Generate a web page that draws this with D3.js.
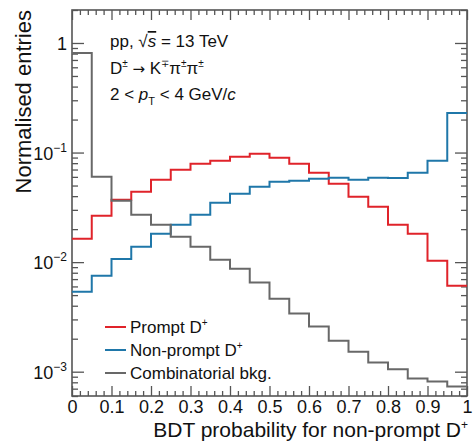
<!DOCTYPE html>
<html>
<head>
<meta charset="utf-8">
<script src="https://cdn.jsdelivr.net/npm/d3@7"></script>
<style>
  body { margin: 0; background: #fff; }
  svg { font-family: "Liberation Sans", Arial, Helvetica, sans-serif; }
  .tick line { stroke: #555; stroke-width: 1.3; }
  .tick text { fill: #111; font-size: 18px; }
</style>
</head>
<body>
<svg id="chart" width="475" height="444"></svg>
<script>
// bin lower edges (width 0.05)
const binLow = [0, 0.05, 0.1, 0.15, 0.2, 0.25, 0.3, 0.35, 0.4, 0.45,
                0.5, 0.55, 0.6, 0.65, 0.7, 0.75, 0.8, 0.85, 0.9, 0.95];
const binWidth = 0.05;

const prompt = [0.0163, 0.0265, 0.0371, 0.0438, 0.0564, 0.0695, 0.0789, 0.0840, 0.0914, 0.0973,
                0.0895, 0.0789, 0.0653, 0.0519, 0.0395, 0.0320, 0.0219, 0.0182, 0.0103, 0.0061];
const nonPrompt = [0.00537, 0.0075, 0.0107, 0.0138, 0.0182, 0.0219, 0.0270, 0.0348, 0.0420, 0.0487,
                   0.0541, 0.0552, 0.0576, 0.0588, 0.0564, 0.0588, 0.0585, 0.0653, 0.0840, 0.230];
const combinatorial = [0.81, 0.060, 0.0363, 0.0270, 0.0219, 0.0170, 0.0138, 0.0105, 0.0087, 0.0065,
                       0.00464, 0.00339, 0.00258, 0.00192, 0.00152, 0.00121, 0.00105, 0.000865, 0.000812, 0.000731];

const xMajor = [0, 0.1, 0.2, 0.3, 0.4, 0.5, 0.6, 0.7, 0.8, 0.9, 1];
const yMajor = [1e-3, 1e-2, 1e-1, 1];
const yExp = ["−3", "−2", "−1", ""];

const series = [
    {name: "Prompt D", values: prompt, color: "#e0232a"},
    {name: "Non-prompt D", values: nonPrompt, color: "#1f77a9"},
    {name: "Combinatorial bkg.", values: combinatorial, color: "#686868"}
];

let fLeft = 72, fRight = 467, fTop = 10, fBottom = 396;

let svg = d3.select("#chart");

let x = d3.scaleLinear().domain([0, 1]).range([fLeft, fRight]);
let y = d3.scaleLog().domain([6e-4, 2]).range([fBottom, fTop]);

// minor ticks
let xMinor = d3.range(0, 101, 2).map(d => d / 100).filter(d => xMajor.indexOf(d) < 0);
let yMinor = [];
[1e-4, 1e-3, 1e-2, 1e-1, 1].forEach(function (dec) {
    for (let k = 2; k <= 9; k++) {
        let v = dec * k;
        if (v >= 6e-4 && v <= 2) yMinor.push(v);
    }
});

// bottom axis
svg.append("g")
   .attr("transform", "translate(0," + fBottom + ")")
   .call(d3.axisBottom(x).tickValues(xMajor).tickSize(-10).tickPadding(4)
           .tickFormat(d => d === 0 || d === 1 ? d3.format("d")(d) : d3.format(".1f")(d)));
svg.append("g")
   .attr("transform", "translate(0," + fBottom + ")")
   .call(d3.axisBottom(x).tickValues(xMinor).tickSize(-5).tickFormat(""));

// top axis
svg.append("g")
   .attr("transform", "translate(0," + fTop + ")")
   .call(d3.axisTop(x).tickValues(xMajor).tickSize(-10).tickFormat(""));
svg.append("g")
   .attr("transform", "translate(0," + fTop + ")")
   .call(d3.axisTop(x).tickValues(xMinor).tickSize(-5).tickFormat(""));

// left axis
svg.append("g")
   .attr("transform", "translate(" + fLeft + ",0)")
   .call(d3.axisLeft(y).tickValues(yMajor).tickSize(-12).tickFormat(""));
svg.append("g")
   .attr("transform", "translate(" + fLeft + ",0)")
   .call(d3.axisLeft(y).tickValues(yMinor).tickSize(-6).tickFormat(""));

// right axis
svg.append("g")
   .attr("transform", "translate(" + fRight + ",0)")
   .call(d3.axisRight(y).tickValues(yMajor).tickSize(-12).tickFormat(""));
svg.append("g")
   .attr("transform", "translate(" + fRight + ",0)")
   .call(d3.axisRight(y).tickValues(yMinor).tickSize(-6).tickFormat(""));

svg.selectAll(".domain").remove();

// y labels 10^n
yMajor.forEach(function (v, i) {
    let t = svg.append("text")
               .attr("x", fLeft - 5)
               .attr("y", y(v) + 7)
               .attr("text-anchor", "end")
               .attr("font-size", 18)
               .attr("fill", "#111");
    if (v === 1) {
        t.text("1");
    } else {
        t.append("tspan").text("10");
        t.append("tspan").attr("font-size", 12).attr("dy", -8).text(yExp[i]);
    }
});

// frame
svg.append("rect")
   .attr("x", fLeft).attr("y", fTop)
   .attr("width", fRight - fLeft).attr("height", fBottom - fTop)
   .attr("fill", "none")
   .attr("stroke", "#555")
   .attr("stroke-width", 1.6);

// histograms
let line = d3.line()
             .x(d => x(d[0]))
             .y(d => y(d[1]))
             .curve(d3.curveStepAfter);

series.forEach(function (s) {
    let pts = binLow.map((b, i) => [b, s.values[i]]);
    pts.push([binLow[binLow.length - 1] + binWidth, s.values[s.values.length - 1]]);
    svg.append("path")
       .attr("d", line(pts))
       .attr("fill", "none")
       .attr("stroke", s.color)
       .attr("stroke-width", 2);
});

// legend
series.forEach(function (s, i) {
    let ly = 327 + i * 23;
    svg.append("line")
       .attr("x1", 105).attr("x2", 126)
       .attr("y1", ly).attr("y2", ly)
       .attr("stroke", s.color)
       .attr("stroke-width", 2);
    let t = svg.append("text")
               .attr("x", 130).attr("y", ly + 6)
               .attr("font-size", 17)
               .attr("fill", "#111");
    t.append("tspan").text(s.name);
    if (i < 2) {
        t.append("tspan").attr("font-size", 10).attr("dy", -7).text("+");
    }
});

// labels inside the chart
let info = svg.append("g").attr("font-size", 17).attr("fill", "#111");
let l1 = info.append("text").attr("x", 110).attr("y", 47);
l1.append("tspan").text("pp, ");
l1.append("tspan").text("√");
l1.append("tspan").attr("font-style", "italic").attr("text-decoration", "overline").text("s");
l1.append("tspan").text(" = 13 TeV");

let l2 = info.append("text").attr("x", 110).attr("y", 74);
l2.append("tspan").text("D");
l2.append("tspan").attr("font-size", 10).attr("dy", -7).text("±");
l2.append("tspan").attr("dy", 7).text("\u00a0");
l2.append("tspan").attr("font-family", "DejaVu Sans").attr("font-size", 15).text("→");
l2.append("tspan").text("\u00a0K");
l2.append("tspan").attr("font-size", 10).attr("dy", -7).text("∓");
l2.append("tspan").attr("dy", 7).text("π");
l2.append("tspan").attr("font-size", 10).attr("dy", -7).text("±");
l2.append("tspan").attr("dy", 7).text("π");
l2.append("tspan").attr("font-size", 10).attr("dy", -7).text("±");

let l3 = info.append("text").attr("x", 110).attr("y", 100);
l3.append("tspan").text("2 < ");
l3.append("tspan").attr("font-style", "italic").text("p");
l3.append("tspan").attr("font-size", 11).attr("dy", 5).text("T");
l3.append("tspan").attr("dy", -5).text(" < 4 GeV/");
l3.append("tspan").attr("font-style", "italic").text("c");

// axis titles
let xt = svg.append("text")
            .attr("x", fRight + 1).attr("y", 437)
            .attr("text-anchor", "end")
            .attr("font-size", 21)
            .attr("fill", "#111");
xt.append("tspan").text("BDT probability for non-prompt D");
xt.append("tspan").attr("font-size", 12).attr("dy", -8).text("+");

svg.append("text")
   .attr("transform", "translate(31," + fTop + ") rotate(-90)")
   .attr("text-anchor", "end")
   .attr("font-size", 22)
   .attr("fill", "#111")
   .text("Normalised entries");
</script>
</body>
</html>
